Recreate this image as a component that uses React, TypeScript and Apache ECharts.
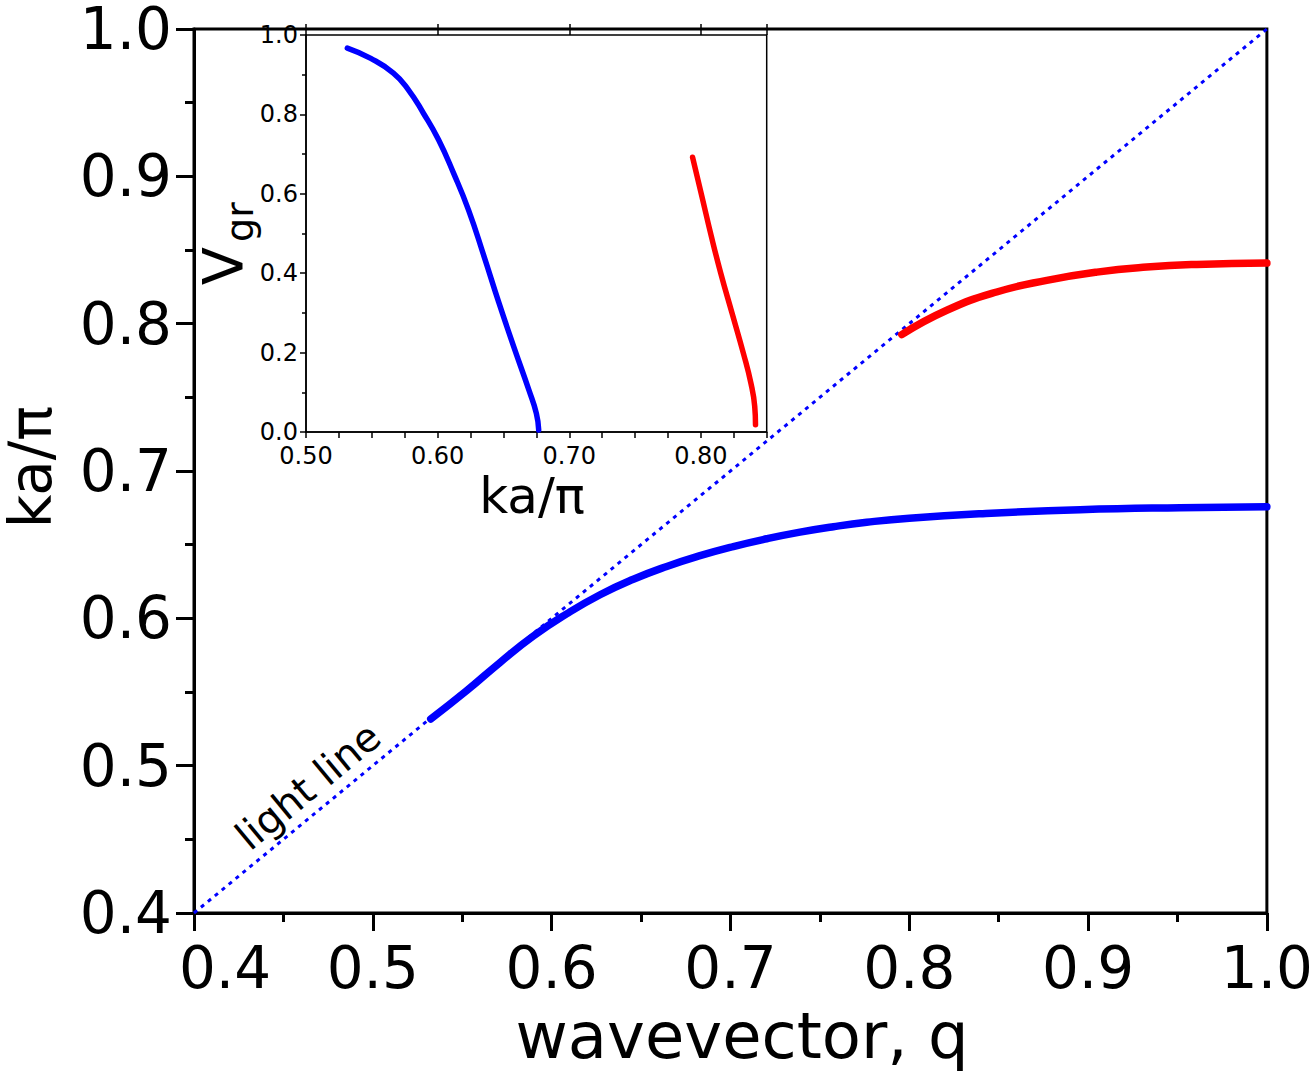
import React, { useEffect, useRef } from "react";
import * as echarts from "echarts";

const FONT = '"DejaVu Sans", Verdana, sans-serif';

// Main plot: wavevector q vs ka/pi
const mainXTicks = [0.4, 0.5, 0.6, 0.7, 0.8, 0.9, 1.0];
const lightLineQ = [0.4, 1.0];
const lightLineKa = [0.4, 1.0];

const blueQ = [0.5324, 0.5525, 0.5711, 0.5898, 0.6084, 0.6271, 0.6457, 0.6644, 0.683, 0.7016, 0.7203, 0.7389, 0.7576, 0.7762, 0.8, 0.84, 0.8955, 0.9515, 1.0];
const blueKa = [0.5317, 0.5509, 0.5700, 0.5880, 0.6030, 0.6160, 0.6265, 0.6352, 0.6425, 0.6487, 0.6540, 0.6585, 0.6622, 0.6652, 0.6680, 0.6710, 0.6737, 0.6751, 0.6757];

const redQ = [0.7958, 0.821, 0.8489, 0.8769, 0.9049, 0.9328, 0.9608, 1.0];
const redKa = [0.7926, 0.8091, 0.8215, 0.8294, 0.835, 0.8384, 0.8402, 0.8411];

// Inset: ka/pi vs group velocity
const insetBlueKa = [0.5314, 0.5492, 0.5664, 0.5778, 0.5892, 0.6007, 0.6121, 0.6235, 0.635, 0.6464, 0.6578, 0.6693, 0.675, 0.6768];
const insetBlueV = [0.967, 0.941, 0.904, 0.862, 0.803, 0.736, 0.652, 0.559, 0.445, 0.327, 0.215, 0.106, 0.047, 0.005];

const insetRedKa = [0.7937, 0.8008, 0.808, 0.8151, 0.8237, 0.8323, 0.838, 0.8409, 0.8415];
const insetRedV = [0.692, 0.593, 0.492, 0.4, 0.299, 0.198, 0.123, 0.064, 0.018];

const zip = (a: number[], b: number[]) => a.map((v, i) => [v, b[i]]);

export default function App() {
  const ref = useRef<HTMLDivElement>(null);
  useEffect(() => {
    document.body.style.margin = "0";
    const chart = echarts.init(ref.current!, undefined, { renderer: "svg" });
    const black = "#000";
    const mainLabel = {
      color: black,
      fontFamily: FONT,
      fontSize: 58,
      lineHeight: 50,
    };
    const curve = (xi: number, yi: number, data: number[][], color: string, width: number, z: number) => ({
      type: "line", xAxisIndex: xi, yAxisIndex: yi, data, showSymbol: false,
      smooth: 0.5,
      lineStyle: { color, width, cap: "round", join: "round" }, z,
    });
    chart.setOption({
      animation: false,
      backgroundColor: "#fff",
      grid: [
        { left: 194, top: 26, width: 1073, height: 887, show: true, borderColor: black, borderWidth: 3, backgroundColor: "transparent" },
        { left: 306, top: 35, width: 460.7, height: 397, show: true, borderColor: black, borderWidth: 1.5, backgroundColor: "#fff", z: 5 },
      ],
      xAxis: [
        {
          gridIndex: 0, type: "value", min: 0.4, max: 1.0, interval: 0.1,
          axisLine: { onZero: false, lineStyle: { color: black, width: 3 } },
          axisTick: { length: 18, lineStyle: { color: black, width: 3 } },
          minorTick: { show: true, splitNumber: 2, length: 9, lineStyle: { color: black, width: 3 } },
          splitLine: { show: false },
          axisLabel: {
            ...mainLabel, margin: 30,
            formatter: (v: number) => (Math.abs(v - mainXTicks[0]) < 1e-9 ? "{s|" + v.toFixed(1) + "}" : v.toFixed(1)),
            rich: { s: { fontFamily: FONT, fontSize: 58, lineHeight: 50, color: black, padding: [0, 0, 0, 62] } },
          },
        },
        {
          gridIndex: 1, type: "value", min: 0.5, max: 0.85, interval: 0.025, z: 6,
          axisLine: { onZero: false, lineStyle: { color: black, width: 1.5 } },
          axisTick: { length: 6, lineStyle: { color: black, width: 1.5 } },
          splitLine: { show: false },
          axisLabel: {
            color: black, fontFamily: FONT, fontSize: 24, margin: 12,
            formatter: (v: number) => {
              const t = v * 10;
              return Math.abs(t - Math.round(t)) < 1e-6 ? v.toFixed(2) : "";
            },
          },
        },
        {
          gridIndex: 1, type: "value", min: 0.5, max: 0.85, interval: 0.1, z: 6,
          axisLine: { show: false, onZero: false },
          axisTick: { length: 11, lineStyle: { color: black, width: 1.5 } },
          splitLine: { show: false },
          axisLabel: { show: false },
        },
      ],
      yAxis: [
        {
          gridIndex: 0, type: "value", min: 0.4, max: 1.0, interval: 0.1,
          axisLine: { onZero: false, lineStyle: { color: black, width: 3 } },
          axisTick: { length: 18, lineStyle: { color: black, width: 3 } },
          minorTick: { show: true, splitNumber: 2, length: 9, lineStyle: { color: black, width: 3 } },
          splitLine: { show: false },
          axisLabel: { ...mainLabel, margin: 22, formatter: (v: number) => v.toFixed(1) },
        },
        {
          gridIndex: 1, type: "value", min: 0, max: 1.0, interval: 0.2, z: 6,
          axisLine: { onZero: false, lineStyle: { color: black, width: 1.5 } },
          axisTick: { length: 6, lineStyle: { color: black, width: 1.5 } },
          minorTick: { show: true, splitNumber: 2, length: 4, lineStyle: { color: black, width: 1.5 } },
          splitLine: { show: false },
          axisLabel: { color: black, fontFamily: FONT, fontSize: 24, margin: 8, formatter: (v: number) => v.toFixed(1) },
        },
      ],
      series: [
        {
          type: "line", xAxisIndex: 0, yAxisIndex: 0, data: zip(lightLineQ, lightLineKa), showSymbol: false,
          lineStyle: { color: "#0000ff", width: 3, type: [4, 5] }, z: 2,
        },
        curve(0, 0, zip(blueQ, blueKa), "#0000ff", 7.5, 3),
        curve(0, 0, zip(redQ, redKa), "#ff0000", 7.5, 3),
        curve(1, 1, zip(insetBlueKa, insetBlueV), "#0000ff", 5.5, 7),
        curve(1, 1, zip(insetRedKa, insetRedV), "#ff0000", 5.5, 7),
      ],
      graphic: [
        {
          type: "text", x: 31, y: 467, rotation: Math.PI / 2,
          style: { text: "ka/π", font: `58px ${FONT}`, lineHeight: 54, fill: black, align: "center", verticalAlign: "middle" },
        },
        {
          type: "text", x: 742, y: 1036,
          style: { text: "wavevector, q", font: `64px ${FONT}`, fill: black, align: "center", verticalAlign: "middle" },
        },
        {
          type: "text", x: 532, y: 496, z: 10,
          style: { text: "ka/π", font: `50px ${FONT}`, fill: black, align: "center", verticalAlign: "middle" },
        },
        {
          type: "text", x: 222, y: 266, rotation: Math.PI / 2, z: 10,
          style: { text: "V", font: `56px ${FONT}`, fill: black, align: "center", verticalAlign: "middle" },
        },
        {
          type: "text", x: 240, y: 222, rotation: Math.PI / 2, z: 10,
          style: { text: "gr", font: `38px ${FONT}`, fill: black, align: "center", verticalAlign: "middle" },
        },
        {
          type: "text", x: 308, y: 786, rotation: (39.6 * Math.PI) / 180,
          style: { text: "light line", font: `40px ${FONT}`, fill: black, align: "center", verticalAlign: "middle" },
        },
      ],
    });
    return () => chart.dispose();
  }, []);
  return <div ref={ref} style={{ position: "absolute", left: 0, top: 0, width: 1316, height: 1073 }} />;
}
